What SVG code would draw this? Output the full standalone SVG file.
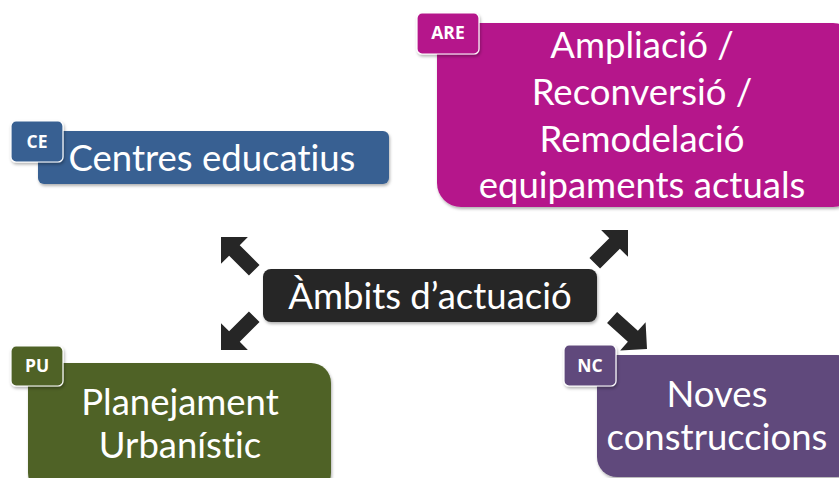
<svg xmlns="http://www.w3.org/2000/svg" width="839" height="478" viewBox="0 0 839 478">
<defs>
<filter id="sh" x="-10%" y="-10%" width="120%" height="130%"><feDropShadow dx="1" dy="2" stdDeviation="1.5" flood-color="#000" flood-opacity="0.3"/></filter>
<path id="arr" d="M0,0 L-19,-19 L-19,-7.5 L-47,-7.5 L-47,7.5 L-19,7.5 L-19,19 Z"/>
</defs>
<style>
.main{font-family:Lato,"Open Sans","Liberation Sans",sans-serif;font-size:36.5px;fill:#fff;text-anchor:middle;font-variant-ligatures:none}
.tag{font-family:"Open Sans","Liberation Sans",sans-serif;font-size:17.5px;font-weight:bold;fill:#fff;text-anchor:middle}
.badge{stroke:#fff;stroke-width:1.2;filter:url(#sh)}
.box{filter:url(#sh)}
.ar{fill:#262626}
</style>
<rect width="839" height="478" fill="#fff"/>
<g id="connectors">
<use href="#arr" class="ar" transform="translate(221,237) rotate(225)"/>
<use href="#arr" class="ar" transform="translate(628,230) rotate(-45)"/>
<use href="#arr" class="ar" transform="translate(221,350) rotate(135)"/>
<use href="#arr" class="ar" transform="translate(647,349) rotate(42)"/>
</g>
<g id="center">
<rect x="263" y="269" width="334" height="53" rx="8" fill="#262626" class="box"/>
<text class="main" x="430" y="309">Àmbits d’actuació</text>
</g>
<g id="CE">
<rect x="38" y="131" width="351" height="53" rx="6" fill="#376092" class="box"/>
<rect x="11" y="121" width="52" height="41" rx="5" fill="#376092" class="badge"/>
<text class="tag" x="37" y="148">CE</text>
<text class="main" x="212" y="171">Centres educatius</text>
</g>
<g id="ARE">
<rect x="437" y="23" width="420" height="184" rx="24" fill="#B5198B" class="box"/>
<rect x="417" y="13" width="62" height="41" rx="5" fill="#B5198B" class="badge"/>
<text class="tag" x="448" y="39">ARE</text>
<text class="main" x="642" y="58">Ampliació /</text>
<text class="main" x="642" y="105">Reconversió /</text>
<text class="main" x="642" y="152">Remodelació</text>
<text class="main" x="642" y="198">equipaments actuals</text>
</g>
<g id="PU">
<rect x="28" y="363" width="303" height="130" rx="20" fill="#4F6228" class="box"/>
<rect x="11" y="346" width="52" height="40" rx="5" fill="#4F6228" class="badge"/>
<text class="tag" x="37" y="372">PU</text>
<text class="main" x="180" y="415">Planejament</text>
<text class="main" x="180" y="458">Urbanístic</text>
</g>
<g id="NC">
<rect x="597" y="355" width="260" height="122" rx="20" fill="#604A7B" class="box"/>
<rect x="564" y="345" width="52" height="41" rx="5" fill="#604A7B" class="badge"/>
<text class="tag" x="590" y="372">NC</text>
<text class="main" x="717" y="407">Noves</text>
<text class="main" x="717" y="450">construccions</text>
</g>
</svg>
